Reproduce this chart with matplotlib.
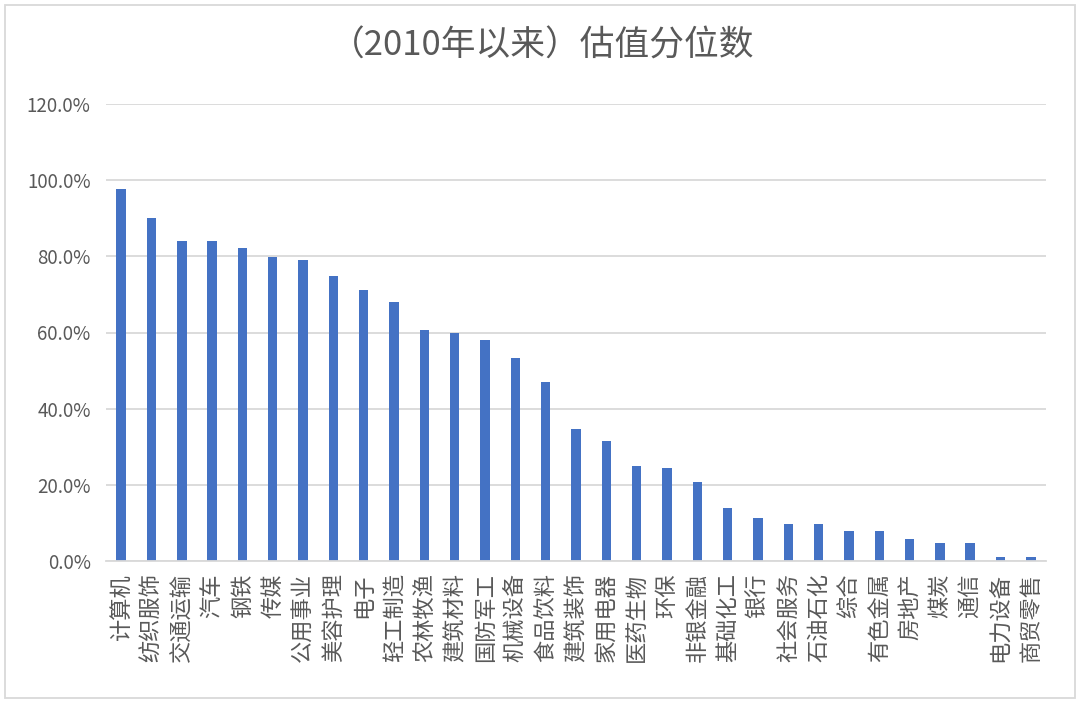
import matplotlib
matplotlib.use("Agg")
import matplotlib.pyplot as plt
from matplotlib.patches import Rectangle
from matplotlib.ticker import FuncFormatter

plt.rcParams['font.family'] = ['Noto Sans CJK SC', 'DejaVu Sans']

categories = ["计算机", "纺织服饰", "交通运输", "汽车", "钢铁", "传媒", "公用事业", "美容护理",
              "电子", "轻工制造", "农林牧渔", "建筑材料", "国防军工", "机械设备", "食品饮料",
              "建筑装饰", "家用电器", "医药生物", "环保", "非银金融", "基础化工", "银行",
              "社会服务", "石油石化", "综合", "有色金属", "房地产", "煤炭", "通信",
              "电力设备", "商贸零售"]
values = [97.6, 90.1, 84.1, 84.1, 82.2, 79.8, 79.1, 74.8,
          71.1, 68.0, 60.6, 60.0, 58.1, 53.3, 47.0,
          34.7, 31.6, 25.0, 24.3, 20.7, 13.8, 11.4,
          9.6, 9.6, 7.8, 7.8, 5.9, 4.7, 4.7,
          1.1, 1.1]
yticks = [0, 20, 40, 60, 80, 100, 120]
title = "（2010年以来）估值分位数"

text_color = "#595959"
grid_color = "#D9D9D9"
bar_color = "#4472C4"

fig = plt.figure(figsize=(10.8, 7.04), dpi=100)
W, H = 1080, 704
ax = fig.add_axes([106 / W, 1 - 561 / H, (1046 - 106) / W, (561 - 104) / H])

x = list(range(len(categories)))
ax.bar(x, values, width=0.31, color=bar_color, zorder=3)

ax.set_xlim(-0.5, len(categories) - 0.5)
ax.set_ylim(0, 120)
ax.set_yticks(yticks)
ax.yaxis.set_major_formatter(FuncFormatter(lambda v, p: f"{v:.1f}%"))
ax.grid(axis='y', color=grid_color, linewidth=1.3, zorder=0)
for s in ['top', 'right', 'left']:
    ax.spines[s].set_visible(False)
ax.spines['bottom'].set_color(grid_color)
ax.spines['bottom'].set_linewidth(1.3)
ax.spines['bottom'].set_zorder(4)

ax.set_xticks(x)
ax.set_xticklabels(categories, rotation=90, fontsize=16, color=text_color, va='top', ha='center')
ax.tick_params(axis='x', length=0, pad=9)
ax.tick_params(axis='y', length=0, pad=11, labelsize=13.5, labelcolor=text_color)

fig.text(0.502, 1 - 46 / H, title, fontsize=25, color=text_color, ha='center', va='center')

fig.patches.append(Rectangle((5 / W, 1 - 698 / H), (1075 - 5) / W, (698 - 5) / H,
                             transform=fig.transFigure, fill=False,
                             edgecolor=grid_color, linewidth=1.3))

fig.savefig("out.png", dpi=100, facecolor="white")
